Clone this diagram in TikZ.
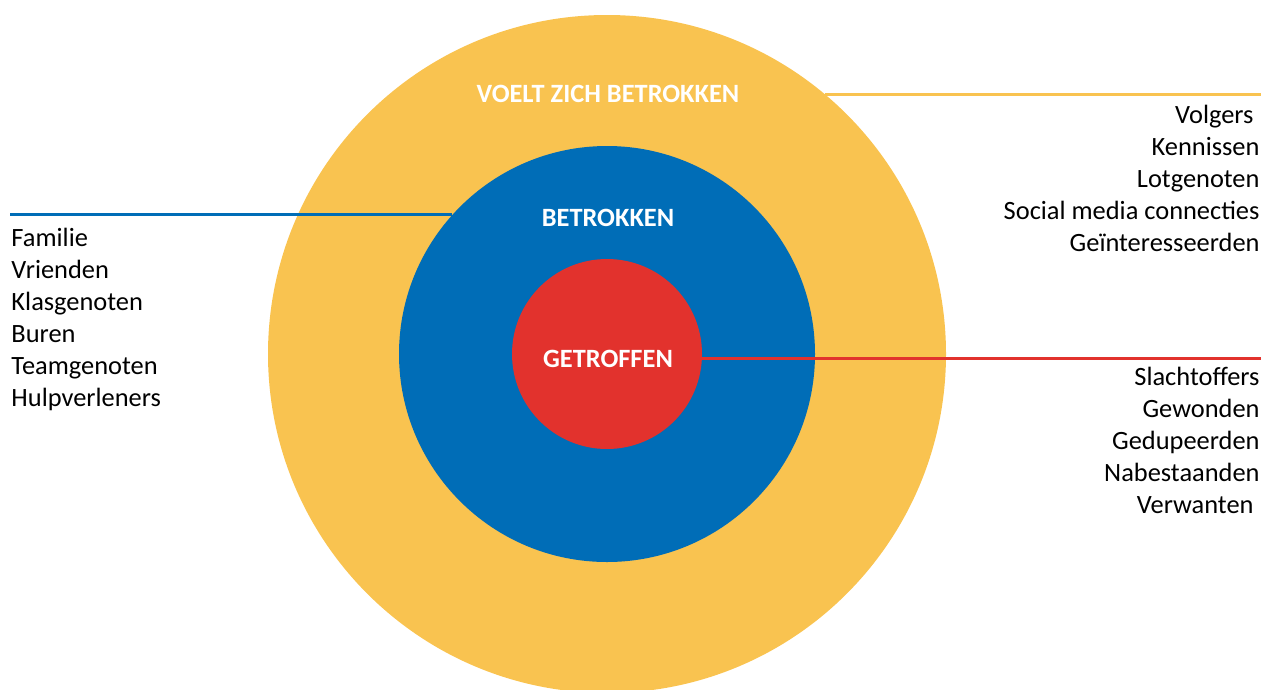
\documentclass[tikz,border=0pt]{standalone}
\usepackage{fontspec}
\setmainfont{Carlito}
\usetikzlibrary{positioning}
\definecolor{ringyellow}{RGB}{249,195,80}
\definecolor{ringblue}{RGB}{0,109,183}
\definecolor{ringred}{RGB}{226,50,45}
\tikzset{ring/.style={circle, inner sep=0pt, outer sep=0pt, minimum size=#1}}
\tikzset{ringlabel/.style={anchor=base, text=white, font=\fontsize{26.4}{30}\selectfont\bfseries}}
\tikzset{listleft/.style={anchor=base west, inner sep=0pt, font=\fontsize{26.4}{30}\selectfont}}
\tikzset{listright/.style={anchor=base east, inner sep=0pt, font=\fontsize{26.4}{30}\selectfont}}
\tikzset{every picture/.style={line width=3pt}}

\begin{document}
\begin{tikzpicture}[x=1pt,y=-1pt]
  \useasboundingbox (0,0) rectangle (1271,689);

  % the three rings
  \node [ring=678pt, fill=ringyellow] (outer)  at (607,354) {};
  \node [ring=416pt, fill=ringblue]   (middle) at (607,354) {};
  \node [ring=190pt, fill=ringred]    (inner)  at (607,354) {};

  \node [ringlabel] (outerlabel)  at (608,102.5) {VOELT ZICH BETROKKEN};
  \node [ringlabel] (middlelabel) at (608,226.5) {BETROKKEN};
  \node [ringlabel] (innerlabel)  at (608,367.5) {GETROFFEN};

  % lines out of the rings
  \coordinate (yellowend) at (1261,94);
  \coordinate (blueend)   at (10,217);
  \coordinate (redend)    at (1261,359);
  \draw [ringyellow] (outer.50.1)   -- (outer.50.1 -| yellowend);
  \draw [ringblue]   (middle.138.8) -- (middle.138.8 -| blueend);
  \draw [ringred]    (inner.-3)     -- (inner.-3 -| redend);

  % groups
  \foreach \name [count=\i] in {Familie, Vrienden, Klasgenoten, Buren, Teamgenoten, Hulpverleners}
    \node [listleft] (left\i) at (10,214+32*\i) {\name};
  \foreach \name [count=\i] in {{Volgers\kern6pt}, Kennissen, Lotgenoten, Social media connecties, Geïnteresseerden}
    \node [listright] (top\i) at (1261,91+32*\i) {\name};
  \foreach \name [count=\i] in {Slachtoffers, Gewonden, Gedupeerden, Nabestaanden, {Verwanten\kern6pt}}
    \node [listright] (bottom\i) at (1261,353+32*\i) {\name};
\end{tikzpicture}
\end{document}
